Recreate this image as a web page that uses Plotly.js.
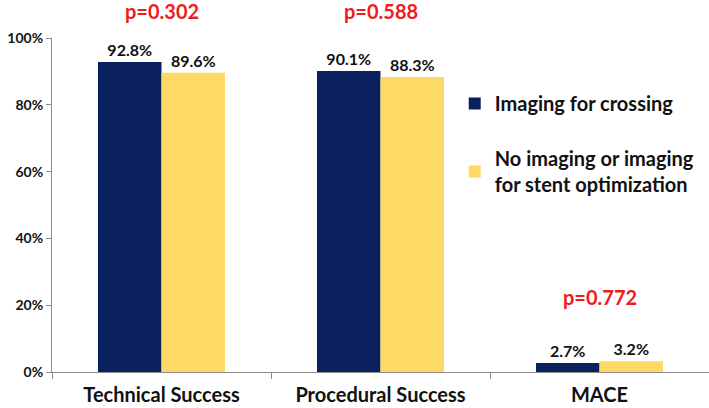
<!DOCTYPE html>
<html>
<head>
<meta charset="utf-8">
<script src="https://cdn.plot.ly/plotly-3.0.1.min.js"></script>
<style>html,body{margin:0;padding:0;background:#fff;}#chart{width:709px;height:408px;}</style>
</head>
<body>
<div id="chart"></div>
<script>
const categories = ["Technical Success", "Procedural Success", "MACE"];
const seriesNames = ["Imaging for crossing", "No imaging or imaging<br>for stent optimization"];
const imagingValues = [92.8, 90.1, 2.7];
const noImagingValues = [89.6, 88.3, 3.2];
const pValues = ["p=0.302", "p=0.588", "p=0.772"];
const pValueHeights = [108, 108, 22.5];
const yTicks = [0, 20, 40, 60, 80, 100];
const yTickText = ["0%", "20%", "40%", "60%", "80%", "100%"];

const FONT = "Lato, 'Open Sans', sans-serif";
const navy = "#0B215E";
const yellow = "#FFD966";

const traces = [
  {
    type: "bar", name: seriesNames[0], x: categories, y: imagingValues,
    marker: {color: navy},
    text: imagingValues.map(v => v.toFixed(1) + "%"),
    textposition: "outside", cliponaxis: false,
    textfont: {family: FONT, size: 16, color: "#111", weight: "bold"},
    legendgroup: "a", hoverinfo: "skip"
  },
  {
    type: "bar", name: seriesNames[1], x: categories, y: noImagingValues,
    marker: {color: yellow},
    text: noImagingValues.map(v => v.toFixed(1) + "%"),
    textposition: "outside", cliponaxis: false,
    textfont: {family: FONT, size: 16, color: "#111", weight: "bold"},
    legendgroup: "b", hoverinfo: "skip"
  }
];

const annotations = categories.map((c, i) => ({
  x: c, y: pValueHeights[i] / 100, xref: "x", yref: "paper",
  xanchor: "center", yanchor: "middle",
  text: "<b>" + pValues[i] + "</b>", showarrow: false,
  font: {family: FONT, size: 20, color: "#EE1C1C"}
}));

const layout = {
  width: 709, height: 408,
  margin: {l: 52, r: 0, t: 38, b: 36},
  paper_bgcolor: "#fff", plot_bgcolor: "#fff",
  font: {family: FONT, color: "#111"},
  barmode: "group", bargap: 0.42, bargroupgap: 0,
  showlegend: true,
  legend: {
    x: 0.613, y: 0.862, xanchor: "left", yanchor: "top",
    font: {family: FONT, size: 20, color: "#111", weight: "bold"},
    traceorder: "grouped", tracegroupgap: 26,
    itemwidth: 30, bgcolor: "rgba(0,0,0,0)"
  },
  xaxis: {
    type: "category", showline: true, linecolor: "#8c8c8c", linewidth: 1,
    ticks: "outside", tickson: "boundaries", ticklen: 6, tickcolor: "#8c8c8c",
    tickfont: {family: FONT, size: 20, color: "#111", weight: "bold"},
    ticklabelstandoff: 5,
    showgrid: false, zeroline: false, fixedrange: true
  },
  yaxis: {
    range: [0, 100], tickmode: "array", tickvals: yTicks, ticktext: yTickText,
    showline: true, linecolor: "#8c8c8c", linewidth: 1,
    ticks: "outside", ticklen: 5, tickcolor: "#8c8c8c",
    tickfont: {family: FONT, size: 14, color: "#111", weight: "bold"},
    showgrid: false, zeroline: false, fixedrange: true
  },
  annotations: annotations
};

Plotly.newPlot("chart", traces, layout, {displayModeBar: false, staticPlot: true});
</script>
</body>
</html>
